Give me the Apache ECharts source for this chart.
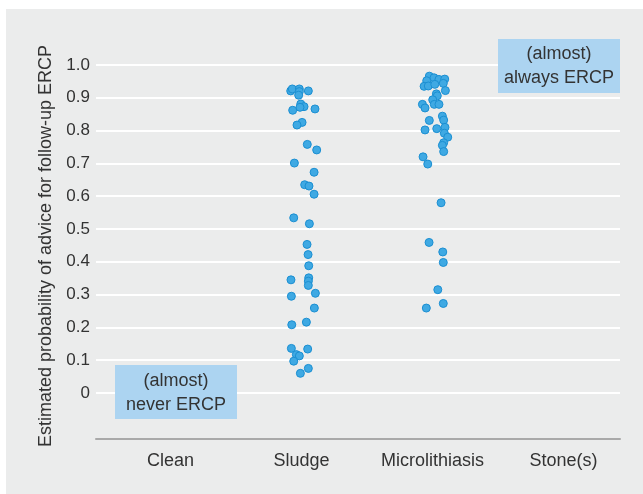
<!DOCTYPE html>
<html>
<head>
<meta charset="utf-8">
<script src="https://cdn.jsdelivr.net/npm/echarts@6/dist/echarts.min.js"></script>
<style>html,body{margin:0;padding:0;background:#ebecec;overflow:hidden}#c{width:643px;height:494px}</style>
</head>
<body>
<div id="c"></div>
<script>
const categories = ['Clean', 'Sludge', 'Microlithiasis', 'Stone(s)'];
const yTickLabels = ['0', '0.1', '0.2', '0.3', '0.4', '0.5', '0.6', '0.7', '0.8', '0.9', '1.0'];
const yAxisTitle = 'Estimated probability of advice for follow-up ERCP';

// Sludge (category index 1): horizontal jitter and estimated probability
const sludgeJitter = [-0.079,-0.067,-0.013,-0.013,-0.018,0.056,-0.002,0.023,-0.008,-0.064,0.107,0.008,-0.031,0.048,0.120,-0.051,0.100,0.028,0.061,0.100,-0.056,0.064,0.046,0.054,0.059,-0.077,0.059,0.056,0.056,0.110,-0.074,0.102,-0.071,0.041,-0.074,0.051,-0.036,-0.013,-0.056,-0.005,0.056];
const sludgeProb = [0.921,0.927,0.927,0.919,0.908,0.921,0.881,0.873,0.871,0.862,0.866,0.825,0.817,0.758,0.741,0.701,0.673,0.635,0.631,0.606,0.534,0.516,0.453,0.422,0.388,0.345,0.351,0.341,0.328,0.304,0.295,0.259,0.208,0.216,0.136,0.134,0.117,0.113,0.097,0.060,0.075];

// Microlithiasis (category index 2)
const microJitter = [-0.017,0.019,-0.037,0.057,0.101,0.090,-0.057,-0.025,0.025,0.106,0.037,0.044,0.009,-0.070,-0.050,0.021,0.057,0.083,0.093,-0.017,0.103,-0.050,0.040,0.098,0.124,0.093,0.083,0.093,-0.065,-0.029,0.073,-0.019,0.086,0.090,0.048,0.090,-0.040];
const microProb = [0.966,0.961,0.952,0.956,0.957,0.944,0.935,0.936,0.941,0.922,0.912,0.906,0.894,0.880,0.869,0.880,0.880,0.844,0.832,0.831,0.810,0.802,0.806,0.792,0.780,0.763,0.755,0.736,0.720,0.698,0.580,0.459,0.430,0.398,0.315,0.273,0.259];

const annotations = [['(almost)', 'never ERCP'], ['(almost)', 'always ERCP']];

const FONT = '"Liberation Sans", Arial, sans-serif';
const TXT = '#333333';

function pts(idx, jit, prob) {
  return jit.map((j, i) => [idx + j, prob[i]]);
}

const chart = echarts.init(document.getElementById('c'), null, {renderer: 'canvas'});
chart.setOption({
  backgroundColor: '#ebecec',
  animation: false,
  textStyle: {fontFamily: FONT, color: TXT},
  grid: [
    {left: 96, right: 23, top: 65, bottom: 101},
    {left: 96, right: 23, top: 65, bottom: 55},
    {left: 105, right: 14, top: 65, bottom: 55}
  ],
  xAxis: [
    {gridIndex: 0, type: 'value', min: -0.571, max: 3.444, show: false},
    {gridIndex: 1, type: 'value', min: 0, max: 1, axisLine: {show: true, onZero: false, lineStyle: {color: '#a9a9a9', width: 2}},
     axisTick: {show: false}, axisLabel: {show: false}, splitLine: {show: false}},
    {gridIndex: 2, type: 'category', data: categories, boundaryGap: true,
     axisLine: {show: false}, axisTick: {show: false}, splitLine: {show: false},
     axisLabel: {interval: 0, fontSize: 18, color: TXT, fontFamily: FONT, margin: 13}}
  ],
  yAxis: [
    {gridIndex: 0, type: 'value', min: 0, max: 1, interval: 0.1,
     axisLine: {show: false}, axisTick: {show: false},
     splitLine: {show: true, lineStyle: {color: '#ffffff', width: 2}},
     axisLabel: {fontSize: 17, color: TXT, fontFamily: FONT, margin: 6,
       formatter: v => yTickLabels[Math.round(v * 10)]}},
    {gridIndex: 1, type: 'value', min: 0, max: 1, show: false},
    {gridIndex: 2, type: 'value', min: 0, max: 1, show: false}
  ],
  series: [
    {name: 'Sludge', type: 'scatter', xAxisIndex: 0, yAxisIndex: 0, data: pts(1, sludgeJitter, sludgeProb),
     symbol: 'circle', symbolSize: 8, z: 5,
     itemStyle: {color: '#3fa9e3', borderColor: '#1b8fd2', borderWidth: 1, opacity: 1}},
    {name: 'Microlithiasis', type: 'scatter', xAxisIndex: 0, yAxisIndex: 0, data: pts(2, microJitter, microProb),
     symbol: 'circle', symbolSize: 8, z: 5,
     itemStyle: {color: '#3fa9e3', borderColor: '#1b8fd2', borderWidth: 1, opacity: 1}}
  ],
  graphic: [
    {type: 'rect', left: 0, top: 0, shape: {width: 643, height: 9}, style: {fill: '#ffffff'}, z: 100},
    {type: 'rect', left: 0, top: 0, shape: {width: 6, height: 494}, style: {fill: '#ffffff'}, z: 100},
    {type: 'text', x: 46, y: 246, rotation: Math.PI / 2, z: 100,
     style: {text: yAxisTitle, fill: TXT, font: '18px ' + FONT, align: 'center', verticalAlign: 'middle'}},
    {type: 'rect', x: 115, y: 365, shape: {width: 122, height: 54}, style: {fill: '#acd4f1'}, z: 100},
    {type: 'text', x: 176, y: 393, z: 101,
     style: {text: annotations[0].join('\n'), fill: TXT, font: '18px ' + FONT, align: 'center', verticalAlign: 'middle', lineHeight: 24}},
    {type: 'rect', x: 498, y: 39, shape: {width: 122, height: 54}, style: {fill: '#acd4f1'}, z: 100},
    {type: 'text', x: 559, y: 66, z: 101,
     style: {text: annotations[1].join('\n'), fill: TXT, font: '18px ' + FONT, align: 'center', verticalAlign: 'middle', lineHeight: 24}}
  ]
});
</script>
</body>
</html>
